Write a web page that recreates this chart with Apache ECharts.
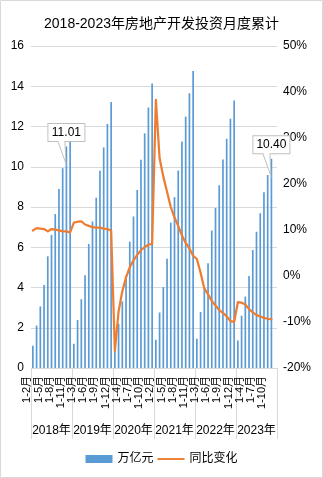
<!DOCTYPE html>
<html>
<head>
<meta charset="utf-8">
<script src="https://cdn.jsdelivr.net/npm/echarts@6/dist/echarts.min.js"></script>
<style>
  html, body { margin: 0; padding: 0; background: #fff; }
  #chart { width: 323px; height: 478px; }
</style>
</head>
<body>
<div id="chart"></div>
<script>
// Years and the cumulative-month periods reported in each year
const years = ['2018年', '2019年', '2020年', '2021年', '2022年', '2023年'];
const months = ['1-2月', '1-3月', '1-4月', '1-5月', '1-6月', '1-7月', '1-8月', '1-9月', '1-10月', '1-11月', '1-12月'];

// Cumulative real-estate development investment, 万亿元
const invest2018 = [1.10, 2.11, 3.06, 4.13, 5.55, 6.61, 7.65, 8.89, 9.93, 11.01, 12.03];
const invest2019 = [1.21, 2.38, 3.42, 4.61, 6.16, 7.28, 8.46, 9.80, 10.96, 12.13, 13.22];
const invest2020 = [1.01, 2.20, 3.31, 4.59, 6.28, 7.53, 8.85, 10.35, 11.66, 12.95, 14.14];
const invest2021 = [1.40, 2.76, 4.02, 5.43, 7.22, 8.49, 9.81, 11.26, 12.49, 13.65, 14.76];
const invest2022 = [1.45, 2.78, 3.92, 5.21, 6.83, 7.95, 9.08, 10.36, 11.39, 12.39, 13.29];
const invest2023 = [1.37, 2.60, 3.55, 4.57, 5.86, 6.77, 7.69, 8.73, 9.59, 10.40];

// Year-on-year change, %
const growth2018 = [9.9, 10.4, 10.3, 10.2, 9.7, 10.2, 10.1, 9.9, 9.7, 9.7, 9.5];
const growth2019 = [11.6, 11.8, 11.9, 11.2, 10.9, 10.6, 10.5, 10.5, 10.3, 10.2, 9.9];
const growth2020 = [-16.3, -7.7, -3.3, -0.3, 1.9, 3.4, 4.6, 5.6, 6.3, 6.8, 7.0];
const growth2021 = [38.3, 25.6, 21.6, 18.3, 15.0, 12.7, 10.9, 8.8, 7.2, 6.0, 4.4];
const growth2022 = [3.7, 0.7, -2.7, -4.0, -5.4, -6.4, -7.4, -8.0, -8.8, -9.8, -10.0];
const growth2023 = [-5.7, -5.8, -6.2, -7.2, -7.9, -8.5, -8.8, -9.1, -9.3, -9.4];

// Periods whose values get a callout box
const callouts = [['2018年', '1-11月'], ['2023年', '1-11月']];

const investByYear = [invest2018, invest2019, invest2020, invest2021, invest2022, invest2023];
const growthByYear = [growth2018, growth2019, growth2020, growth2021, growth2022, growth2023];

// One category per (year, period); the last year keeps its empty 1-12月 slot
const periods = [];
const investment = [];
const growth = [];
years.forEach((y, yi) => {
  months.forEach((m, mi) => {
    periods.push(m);
    const v = investByYear[yi][mi];
    const g = growthByYear[yi][mi];
    investment.push(v === undefined ? null : v);
    growth.push(g === undefined ? null : g);
  });
});

const periodIndex = (y, m) => years.indexOf(y) * months.length + months.indexOf(m);
const calloutData = callouts.map(([y, m]) => {
  const i = periodIndex(y, m);
  return { coord: [i, investment[i]], value: investment[i] };
});

const FONT = "'Liberation Sans', 'Noto Sans CJK SC', sans-serif";
const BLUE = '#5B9BD5';
const ORANGE = '#ED7D31';
const GRID = '#D9D9D9';
const TEXT = '#000';
const GROUP_TICK = 71; // length of the year separators below the axis

// Callout: box 37x18 with a wedge pointing down to the bar
const calloutPath = 'path://M0,0 L37,0 L37,18 L17,18 L18,40 L10,18 L0,18 Z';
// Legend key for the line: a thin horizontal stroke
const lineKey = 'path://M0,0 L28,0 L28,2 L0,2 Z';

const chart = echarts.init(document.getElementById('chart'), null, { renderer: 'canvas' });

const option = {
  animation: false,
  backgroundColor: '#fff',
  textStyle: { fontFamily: FONT, color: TEXT },
  title: {
    text: '2018-2023年房地产开发投资月度累计',
    left: 'center',
    top: 12,
    textStyle: { fontFamily: FONT, fontSize: 14, fontWeight: 'normal', color: TEXT }
  },
  graphic: [{
    type: 'rect',
    silent: true,
    shape: { x: 0.5, y: 0.5, width: 322, height: 477 },
    style: { fill: 'none', stroke: GRID, lineWidth: 1 }
  }],
  legend: {
    bottom: 8,
    left: 'center',
    itemWidth: 27,
    itemHeight: 8,
    itemGap: 4,
    symbolKeepAspect: true,
    textStyle: { fontFamily: FONT, fontSize: 12, color: TEXT },
    data: [
      { name: '万亿元', icon: 'rect' },
      { name: '同比变化', icon: lineKey, itemStyle: { color: ORANGE } }
    ]
  },
  grid: { left: 31, right: 46, top: 46, bottom: 110, containLabel: false },
  xAxis: [
    {
      type: 'category',
      data: periods,
      position: 'bottom',
      boundaryGap: true,
      axisLine: { show: true, lineStyle: { color: GRID, width: 1 } },
      axisTick: { show: false },
      axisLabel: {
        interval: 2,
        rotate: 90,
        margin: 8,
        fontSize: 11,
        color: TEXT,
        fontFamily: FONT,
        verticalAlign: 'bottom'
      },
      splitLine: { show: false }
    },
    {
      type: 'category',
      data: years,
      position: 'bottom',
      boundaryGap: true,
      axisLine: { show: false },
      axisTick: { show: false },
      axisLabel: { interval: 0, margin: 57, fontSize: 12, color: TEXT, fontFamily: FONT },
      splitLine: { show: false }
    }
  ],
  yAxis: [
    {
      type: 'value',
      min: 0,
      max: 16,
      interval: 2,
      axisLine: { show: false },
      axisTick: { show: false },
      axisLabel: { margin: 7, fontSize: 12, color: TEXT, fontFamily: FONT },
      splitLine: { show: true, lineStyle: { color: GRID, width: 1 } }
    },
    {
      type: 'value',
      min: -20,
      max: 50,
      interval: 10,
      position: 'right',
      axisLine: { show: false },
      axisTick: { show: false },
      axisLabel: { margin: 6, fontSize: 12, color: TEXT, fontFamily: FONT, formatter: '{value}%' },
      splitLine: { show: false }
    }
  ],
  series: [
    {
      name: '万亿元',
      type: 'bar',
      xAxisIndex: 0,
      yAxisIndex: 0,
      data: investment,
      barWidth: 1.7,
      itemStyle: { color: BLUE },
      markPoint: {
        symbol: calloutPath,
        symbolSize: [37, 40],
        symbolOffset: [0, -3],
        symbolKeepAspect: false,
        silent: true,
        itemStyle: { color: '#fff', borderColor: '#BFBFBF', borderWidth: 1 },
        label: {
          show: true,
          position: 'inside',
          offset: [0, -11],
          color: TEXT,
          fontSize: 12,
          fontFamily: FONT,
          formatter: p => Number(p.value).toFixed(2)
        },
        data: calloutData
      }
    },
    {
      name: '同比变化',
      type: 'line',
      xAxisIndex: 0,
      yAxisIndex: 1,
      data: growth,
      symbol: 'none',
      showSymbol: false,
      connectNulls: false,
      lineStyle: { color: ORANGE, width: 2.25, join: 'round', cap: 'round' },
      itemStyle: { color: ORANGE }
    }
  ]
};
chart.setOption(option);

// Year separators: vertical strokes below the axis at each year boundary,
// placed from the category scale of the period axis
const yAxisZero = chart.convertToPixel({ yAxisIndex: 0 }, 0);
const step = chart.convertToPixel({ xAxisIndex: 0 }, 1) - chart.convertToPixel({ xAxisIndex: 0 }, 0);
const separators = [];
for (let y = 0; y <= years.length; y++) {
  const x = Math.round(chart.convertToPixel({ xAxisIndex: 0 }, y * months.length) - step / 2) + 0.5;
  separators.push({
    type: 'line',
    silent: true,
    shape: { x1: x, y1: yAxisZero, x2: x, y2: yAxisZero + GROUP_TICK },
    style: { stroke: GRID, lineWidth: 1 }
  });
}
chart.setOption({ graphic: option.graphic.concat(separators) });
</script>
</body>
</html>
